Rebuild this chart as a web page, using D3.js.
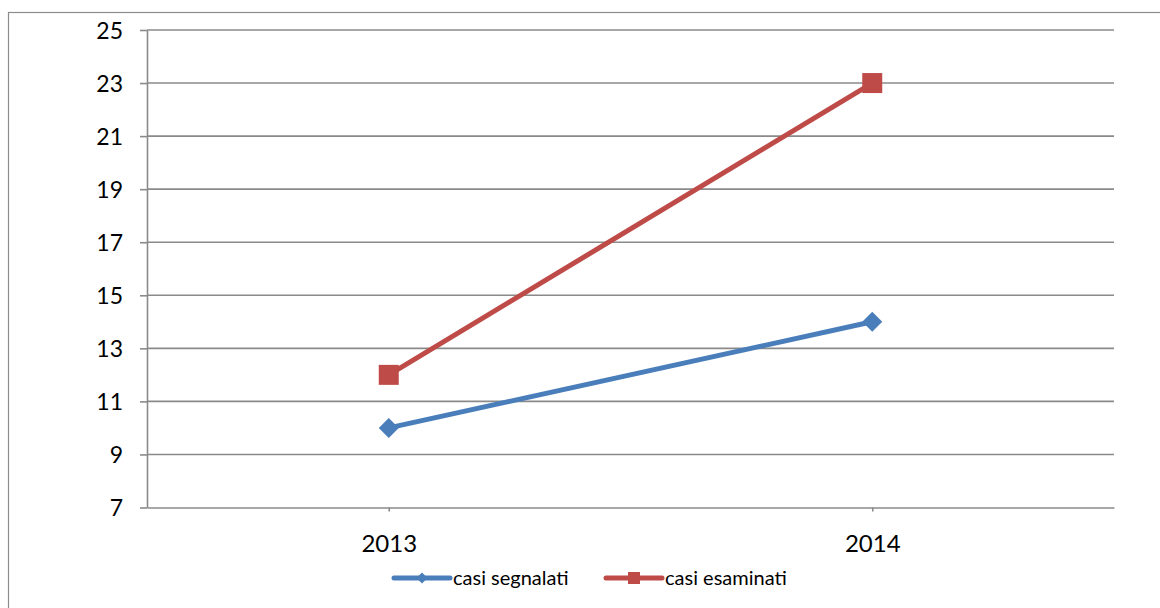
<!DOCTYPE html>
<html>
<head>
<meta charset="utf-8">
<script src="https://cdn.jsdelivr.net/npm/d3@7"></script>
<style>
  body { margin: 0; background: #fff; }
  svg text { font-family: Lato, "Open Sans", sans-serif; fill: #000; }
</style>
</head>
<body>
<script>
// Chart data
let years = ["2013", "2014"];
let segnalati = [10, 14];
let esaminati = [12, 23];
let yTicks = [7, 9, 11, 13, 15, 17, 19, 21, 23, 25];
let seriesNames = ["casi segnalati", "casi esaminati"];

let width = 1160;
let height = 608;
let plot = { left: 147, right: 1114, top: 30, bottom: 507.5 };

let svg = d3.select("body")
  .append("svg")
    .attr("width", width)
    .attr("height", height);

// outer chart border (only top and left edges fall inside the window)
svg.append("rect")
  .attr("x", 8.5).attr("y", 12.5)
  .attr("width", 1200).attr("height", 700)
  .attr("fill", "none")
  .attr("stroke", "#8c8c8c")
  .attr("stroke-width", 1.2);

let x = d3.scalePoint()
  .domain(years)
  .range([plot.left, plot.right])
  .padding(0.5);

let y = d3.scaleLinear()
  .domain([7, 25])
  .range([plot.bottom, plot.top]);

// horizontal gridlines
svg.append("g")
  .selectAll("line")
  .data(yTicks.slice(1))
  .enter().append("line")
    .attr("x1", plot.left).attr("x2", plot.right)
    .attr("y1", (d) => y(d)).attr("y2", (d) => y(d))
    .attr("stroke", "#8a8a8a")
    .attr("stroke-width", 1.6);

// y axis
let yAxis = svg.append("g")
  .attr("transform", "translate(" + plot.left + ",0)")
  .call(d3.axisLeft(y).tickValues(yTicks).tickSize(7).tickSizeOuter(0).tickPadding(17));
yAxis.selectAll("text").style("font-size", "23px").attr("dy", "0.36em");

// x axis
let xAxis = svg.append("g")
  .attr("transform", "translate(0," + plot.bottom + ")")
  .call(d3.axisBottom(x).tickSize(4).tickSizeOuter(0).tickPadding(23));
xAxis.selectAll("text").style("font-size", "24px");
xAxis.append("line")
  .attr("x1", plot.right).attr("x2", plot.right)
  .attr("y1", 0).attr("y2", 5);

svg.selectAll(".domain, .tick line")
  .attr("stroke", "#8a8a8a")
  .attr("stroke-width", 1.6);

// series lines
let colors = ["#4a7ebb", "#be4b48"];
let allSeries = [segnalati, esaminati];
let line = d3.line()
  .x((d, i) => x(years[i]))
  .y((d) => y(d));

allSeries.forEach((values, s) => {
  svg.append("path")
    .datum(values)
    .attr("d", line)
    .attr("fill", "none")
    .attr("stroke", colors[s])
    .attr("stroke-width", 5)
    .attr("stroke-linecap", "round");
});

// markers
let diamond = d3.symbol().type(d3.symbolSquare).size(200);
svg.append("g")
  .selectAll("path")
  .data(segnalati)
  .enter().append("path")
    .attr("d", diamond)
    .attr("transform", (d, i) => "translate(" + x(years[i]) + "," + y(d) + ") rotate(45)")
    .attr("fill", colors[0]);

svg.append("g")
  .selectAll("rect")
  .data(esaminati)
  .enter().append("rect")
    .attr("x", (d, i) => x(years[i]) - 10)
    .attr("y", (d) => y(d) - 10)
    .attr("width", 20).attr("height", 20)
    .attr("fill", colors[1]);

// legend
let legendX = [394, 606];
let legendY = 578;
let legend = svg.append("g");
seriesNames.forEach((name, i) => {
  let lx = legendX[i];
  legend.append("line")
    .attr("x1", lx).attr("x2", lx + 56)
    .attr("y1", legendY).attr("y2", legendY)
    .attr("stroke", colors[i])
    .attr("stroke-width", 5)
    .attr("stroke-linecap", "round");
  if (i === 0) {
    legend.append("path")
      .attr("d", d3.symbol().type(d3.symbolSquare).size(60))
      .attr("transform", "translate(" + (lx + 28) + "," + legendY + ") rotate(45)")
      .attr("fill", colors[i]);
  } else {
    legend.append("rect")
      .attr("x", lx + 28 - 6).attr("y", legendY - 6)
      .attr("width", 12).attr("height", 12)
      .attr("fill", colors[i]);
  }
  legend.append("text")
    .attr("x", lx + 59)
    .attr("y", legendY + 6.5)
    .style("font-size", "20px")
    .text(name);
});
</script>
</body>
</html>
